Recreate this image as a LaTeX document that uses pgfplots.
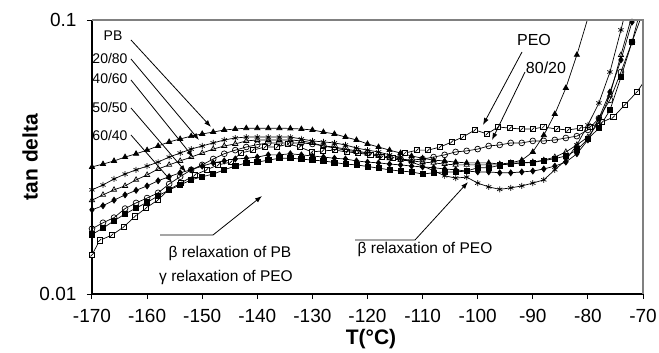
\documentclass[border=0pt]{standalone}
\usepackage{fontspec}
\setmainfont{Liberation Sans}
\usepackage{pgfplots}
\pgfplotsset{compat=1.18}
\usetikzlibrary{arrows.meta}
\pgfdeclareplotmark{boxd}{%
  \pgfpathrectangle{\pgfqpoint{-\pgfplotmarksize}{-\pgfplotmarksize}}{\pgfqpoint{2\pgfplotmarksize}{2\pgfplotmarksize}}%
  \pgfusepathqfillstroke
  \pgfpathmoveto{\pgfqpoint{-0.6\pgfplotmarksize}{-0.6\pgfplotmarksize}}%
  \pgfpathlineto{\pgfqpoint{0.6\pgfplotmarksize}{0.6\pgfplotmarksize}}%
  \pgfusepathqstroke
}
\begin{document}
\begin{tikzpicture}
\useasboundingbox (-92bp,-59bp) rectangle (567bp,294bp);
\begin{axis}[at={(0,0)},anchor=south west, scale only axis, width=551bp, height=274bp,
 xmin=-170,xmax=-70, ymode=log, ymin=0.01,ymax=0.1,
 axis x line=bottom, axis y line=left, axis line style={-},
 x axis line style={line width=1.2bp}, y axis line style={line width=1.8bp},
 xtick={-170,-160,...,-70}, xticklabels={-170,-160,-150,-140,-130,-120,-110,-100,-90,-80,-70},
 ytick={0.01,0.1}, yticklabels={0.01,0.1}, yminorticks=false,
 tick align=outside, major tick length=5bp, tick style={black,line width=1bp},
 ticklabel style={font=\fontsize{19bp}{22bp}\selectfont},
 xticklabel style={yshift=-7bp}, yticklabel style={xshift=-7bp},
 every axis plot/.append style={black, line width=0.7bp, mark size=2.6bp, mark options={solid,line width=0.7bp}},
 clip=true,
]
% PEO
\addplot[mark=boxd, mark options={fill=white}, mark size=2.6bp] coordinates {
(-170,0.0139)(-168.6,0.0157)(-166.4,0.0164)(-164.2,0.0176)(-162.2,0.0192)(-160.2,0.0206)
(-158.1,0.0220)(-156.1,0.0240)(-153.9,0.0254)(-151.3,0.0272)(-149.2,0.0284)(-147.1,0.0296)
(-144.8,0.0303)(-143,0.0327)(-140.8,0.0335)(-138.6,0.0344)(-136.4,0.0344)(-134.4,0.0353)
(-132.3,0.0344)(-130.1,0.0330)(-128.1,0.0333)(-125.9,0.0335)(-123.7,0.0330)(-121.7,0.0327)
(-119.5,0.0322)(-117.4,0.0316)(-115.4,0.0313)(-113.2,0.0327)(-111,0.0335)(-109,0.0335)
(-106.8,0.0344)(-104.7,0.0359)(-102.7,0.0374)(-100.5,0.0397)(-98.3,0.0384)(-96.3,0.0407)
(-94.1,0.0403)(-92,0.0400)(-90,0.0400)(-88.1,0.0407)(-85.6,0.0400)(-83.6,0.0397)
(-81.4,0.0403)(-79.6,0.0407)(-77.4,0.0424)(-75.4,0.0442)(-73.3,0.0490)(-71.1,0.0546)(-69,0.063)};
% 80/20
\addplot[mark=o, mark options={fill=white}, mark size=2.9bp] coordinates {
(-170,0.0173)(-168,0.0182)(-166,0.0190)(-164,0.0205)(-162,0.0215)(-160,0.0224)(-158,0.0234)
(-156,0.0252)(-154,0.0268)(-152,0.0284)(-150,0.0296)(-148,0.0311)(-146,0.0325)(-144,0.0335)
(-142,0.0344)(-140,0.0351)(-138,0.0356)(-136,0.0356)(-134,0.0356)(-132,0.0356)(-130,0.0353)
(-128,0.0347)(-126,0.0344)(-124,0.0338)(-122,0.0333)(-120,0.0327)(-118,0.0322)(-116,0.0316)
(-114,0.0311)(-112,0.0308)(-110,0.0311)(-108,0.0316)(-106,0.0322)(-104,0.0330)(-102,0.0333)
(-100,0.0338)(-98,0.0347)(-96,0.0350)(-94,0.0356)(-92,0.0356)(-90,0.0362)(-88,0.0362)
(-86,0.0365)(-84,0.0371)(-82,0.0377)(-80,0.0397)(-78,0.0438)(-76,0.0511)(-74,0.0646)
(-72,0.0831)(-70,0.107)};
% 60/40
\addplot[mark=square*, mark options={fill=black}, mark size=2.6bp] coordinates {
(-170,0.0165)(-168,0.0174)(-166,0.0185)(-164,0.0196)(-162,0.0206)(-160,0.0216)(-158,0.0228)
(-156,0.0240)(-154,0.0250)(-152,0.0261)(-150,0.0268)(-148,0.0274)(-146,0.0284)(-144,0.0293)
(-142,0.0301)(-140,0.0303)(-138,0.0308)(-136,0.0313)(-134,0.0313)(-132,0.0311)(-130,0.0308)
(-128,0.0306)(-126,0.0302)(-124,0.0298)(-122,0.0296)(-120,0.0292)(-118,0.0288)(-116,0.0284)
(-114,0.0281)(-112,0.0279)(-110,0.0274)(-108,0.0277)(-106,0.0279)(-104,0.0279)(-102,0.0281)
(-100,0.0289)(-98,0.0289)(-96,0.0295)(-94,0.0300)(-92,0.0301)(-90,0.0302)(-88,0.0307)
(-86,0.0312)(-84,0.0319)(-82,0.0335)(-80,0.0368)(-78,0.0403)(-76,0.0469)(-74,0.0619)
(-72,0.0831)(-70,0.118)};
% 50/50
\addplot[mark=diamond*, mark options={fill=black}, mark size=3bp] coordinates {
(-170,0.0203)(-168,0.0210)(-166,0.0220)(-164,0.0230)(-162,0.0239)(-160,0.0248)(-158,0.0259)
(-156,0.0268)(-154,0.0277)(-152,0.0284)(-150,0.0293)(-148,0.0301)(-146,0.0306)(-144,0.0311)
(-142,0.0313)(-140,0.0316)(-138,0.0322)(-136,0.0322)(-134,0.0325)(-132,0.0322)(-130,0.0319)
(-128,0.0316)(-126,0.0313)(-124,0.0311)(-122,0.0306)(-120,0.0303)(-118,0.0301)(-116,0.0298)
(-114,0.0296)(-112,0.0293)(-110,0.0291)(-108,0.0289)(-106,0.0286)(-104,0.0284)(-102,0.0281)
(-100,0.0279)(-98,0.0279)(-96,0.0277)(-94,0.0277)(-92,0.0279)(-90,0.0281)(-88,0.0286)
(-86,0.0293)(-84,0.0303)(-82,0.0325)(-80,0.0365)(-78,0.0438)(-76,0.0546)(-74,0.0715)
(-72,0.0983)(-70,0.135)};
% 40/60
\addplot[mark=triangle, mark options={fill=white}, mark size=3bp] coordinates {
(-170,0.0220)(-168,0.0230)(-166,0.0240)(-164,0.0248)(-162,0.0261)(-160,0.0272)(-158,0.0286)
(-156,0.0296)(-154,0.0306)(-152,0.0316)(-150,0.0327)(-148,0.0338)(-146,0.0347)(-144,0.0353)
(-142,0.0362)(-140,0.0365)(-138,0.0365)(-136,0.0365)(-134,0.0365)(-132,0.0362)(-130,0.0356)
(-128,0.0347)(-126,0.0341)(-124,0.0335)(-122,0.0330)(-120,0.0325)(-118,0.0319)(-116,0.0313)
(-114,0.0308)(-112,0.0306)(-110,0.0303)(-108,0.0301)(-106,0.0298)(-104,0.0296)(-102,0.0296)
(-100,0.0296)(-98,0.0296)(-96,0.0296)(-94,0.0298)(-92,0.0301)(-90,0.0303)(-88,0.0308)
(-86,0.0316)(-84,0.0330)(-82,0.0350)(-80,0.0374)(-78,0.0424)(-76,0.0533)(-74,0.0745)
(-72,0.104)};
% 20/80
\addplot[mark=asterisk, mark size=3bp] coordinates {
(-170,0.0240)(-168,0.0250)(-166,0.0263)(-164,0.0274)(-162,0.0284)(-160,0.0293)(-158,0.0303)
(-156,0.0316)(-154,0.0327)(-152,0.0338)(-150,0.0347)(-148,0.0356)(-146,0.0365)(-144,0.0371)
(-142,0.0374)(-140,0.0374)(-138,0.0374)(-136,0.0374)(-134,0.0374)(-132,0.0368)(-130,0.0362)
(-128,0.0359)(-126,0.0356)(-124,0.0350)(-122,0.0341)(-120,0.0335)(-118,0.0330)(-116,0.0322)
(-114,0.0313)(-112,0.0303)(-110,0.0293)(-108,0.0282)(-106,0.0270)(-104,0.0265)(-102,0.0267)
(-100,0.0254)(-98,0.0246)(-96,0.0241)(-94,0.0244)(-92,0.0248)(-90,0.0254)(-88,0.0261)
(-86,0.0284)(-84,0.0308)(-82,0.0350)(-80,0.0414)(-78,0.0498)(-76,0.0646)(-74,0.0920)
(-72,0.134)};
% PB
\addplot[mark=triangle*, mark options={fill=black}, mark size=3bp] coordinates {
(-170,0.0291)(-168,0.0298)(-166,0.0306)(-164,0.0316)(-162,0.0325)(-160,0.0335)(-158,0.0347)
(-156,0.0359)(-154,0.0368)(-152,0.0377)(-150,0.0384)(-148,0.0390)(-146,0.0397)(-144,0.0400)
(-142,0.0403)(-140,0.0403)(-138,0.0403)(-136,0.0403)(-134,0.0402)(-132,0.0400)(-130,0.0397)
(-128,0.0390)(-126,0.0384)(-124,0.0374)(-122,0.0365)(-120,0.0353)(-118,0.0344)(-116,0.0335)
(-114,0.0327)(-112,0.0319)(-110,0.0313)(-108,0.0308)(-106,0.0306)(-104,0.0303)(-102,0.0301)
(-100,0.0301)(-98,0.0301)(-96,0.0298)(-94,0.0301)(-92,0.0308)(-90,0.0330)(-88,0.0380)
(-86,0.0454)(-84,0.0565)(-82,0.0746)(-80,0.1017)};
\end{axis}
\begin{scope}[x=1bp,y=1bp, >={Latex[length=7bp,width=5bp]}]
\draw[gray, line width=1.3bp] (0,274) -- (551,274) -- (551,0);
\begin{scope}[font=\fontsize{14bp}{16bp}\selectfont]
\node at (21,258) {PB};
\node at (18,236) {20/80};
\node at (18,216) {40/60};
\node at (18,187) {50/50};
\node at (18,159) {60/40};
\end{scope}
\draw[->, line width=0.8bp] (39,254) -- (119,167);
\draw[->, line width=0.8bp] (39,235) -- (107,154);
\draw[->, line width=0.8bp] (39,214) -- (101,137);
\draw[->, line width=0.8bp] (39,186) -- (94,122);
\draw[->, line width=0.8bp] (39,159) -- (80,112);
\begin{scope}[font=\fontsize{16bp}{18bp}\selectfont]
\node at (442,254) {PEO};
\node at (454,226) {80/20};
\end{scope}
\draw[->, line width=0.8bp] (430,242) -- (391,169);
\draw[->, line width=0.8bp] (433,222) -- (400,154);
\begin{scope}[font=\fontsize{15.5bp}{18bp}\selectfont]
\node at (138,41) {β relaxation of PB};
\node at (134,17) {γ relaxation of PEO};
\node at (333,45) {β relaxation of PEO};
\end{scope}
\draw[->, line width=0.8bp] (68,59) -- (121,59) -- (170,98);
\draw[->, line width=0.8bp] (263,54) -- (323,54) -- (376,112);
\node[rotate=90, font=\bfseries\fontsize{21bp}{24bp}\selectfont] at (-62,137) {tan delta};
\node[font=\bfseries\fontsize{21bp}{24bp}\selectfont] at (279,-45) {T(°C)};
\end{scope}
\end{tikzpicture}
\end{document}
